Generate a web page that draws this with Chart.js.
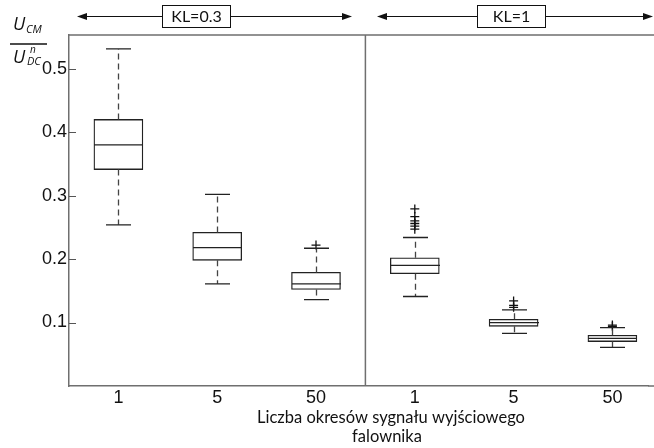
<!DOCTYPE html>
<html>
<head>
<meta charset="utf-8">
<script src="https://cdn.jsdelivr.net/npm/chart.js@4.4.0/dist/chart.umd.min.js"></script>
<style>
    html, body { margin: 0; padding: 0; background: #fff; overflow: hidden; }
    #chart { position: absolute; left: 0; top: 0; }
</style>
</head>
<body>
<canvas id="chart" width="654" height="448"></canvas>
<script>
// Dane (pudełka: min, q1, mediana, q3, max)
const kategorie = ['1', '5', '50', '1', '5', '50'];
const maksima   = [0.531, 0.302, 0.217, 0.234, 0.120, 0.092];
const kwartylG  = [0.420, 0.242, 0.179, 0.202, 0.105, 0.080];
const mediany   = [0.380, 0.218, 0.161, 0.190, 0.100, 0.075];
const kwartylD  = [0.341, 0.198, 0.152, 0.177, 0.094, 0.070];
const minima    = [0.254, 0.161, 0.136, 0.141, 0.083, 0.061];
const odstajace = [[], [], [0.222], [0.279, 0.267, 0.260, 0.256, 0.252, 0.247], [0.134, 0.127, 0.124], [0.096, 0.094]];
const yTicki    = [0.1, 0.2, 0.3, 0.4, 0.5];
const grupy     = ['KL=0.3', 'KL=1'];
const tytulX    = ['Liczba okresów sygnału wyjściowego', 'falownika'];

// pozycje kategorii na osi liniowej (prawa część wykresu jest ucięta w oryginale)
const indeksy = kategorie.map((_, i) => i);
const krokKategorii = 98.8; // px na kategorię
const punktyOdst = [];
odstajace.forEach((lista, i) => lista.forEach(v => punktyOdst.push({ x: i, y: v })));

function strzalka(ctx, x1, x2, y) {
    // linia ze strzałką na końcu x2
    const dir = Math.sign(x2 - x1);
    ctx.beginPath();
    ctx.moveTo(x1, y);
    ctx.lineTo(x2 - dir * 8, y);
    ctx.stroke();
    ctx.beginPath();
    ctx.moveTo(x2, y);
    ctx.lineTo(x2 - dir * 10, y - 3.5);
    ctx.lineTo(x2 - dir * 10, y + 3.5);
    ctx.closePath();
    ctx.fill();
}

const pluginBoxplot = {
    id: 'boxplot',
    afterDatasetsDraw(chart) {
        const { ctx, scales: { x, y } } = chart;
        ctx.save();
        ctx.lineWidth = 1.3;

        indeksy.forEach(i => {
            const cx = Math.round(x.getPixelForValue(i)) + 0.5;
            const half = 24.5;
            const pMed = y.getPixelForValue(mediany[i]);
            const pQ3 = y.getPixelForValue(kwartylG[i]);
            const pQ1 = y.getPixelForValue(kwartylD[i]);
            const pMax = y.getPixelForValue(maksima[i]);
            const pMin = y.getPixelForValue(minima[i]);

            // mediana
            ctx.setLineDash([]);
            ctx.strokeStyle = '#222';
            ctx.beginPath();
            ctx.moveTo(cx - half, pMed);
            ctx.lineTo(cx + half, pMed);
            ctx.stroke();

            // wąsy przerywane
            ctx.setLineDash([6, 4]);
            ctx.strokeStyle = '#444';
            ctx.beginPath();
            ctx.moveTo(cx, pQ3);
            ctx.lineTo(cx, pMax);
            ctx.moveTo(cx, pQ1);
            ctx.lineTo(cx, pMin);
            ctx.stroke();

            // zakończenia wąsów
            ctx.setLineDash([]);
            ctx.strokeStyle = '#222';
            ctx.beginPath();
            ctx.moveTo(cx - 12.5, pMax);
            ctx.lineTo(cx + 12.5, pMax);
            ctx.moveTo(cx - 12.5, pMin);
            ctx.lineTo(cx + 12.5, pMin);
            ctx.stroke();
        });
        ctx.restore();
    },
    afterDraw(chart) {
        const { ctx, chartArea, scales: { x, y } } = chart;
        ctx.save();

        // ramka górna (do prawej krawędzi) i separator
        ctx.strokeStyle = '#6f6f6f';
        ctx.lineWidth = 1.5;
        ctx.beginPath();
        ctx.moveTo(chartArea.left, chartArea.top);
        ctx.lineTo(chart.width, chartArea.top);
        ctx.moveTo(chartArea.right, chartArea.bottom);
        ctx.lineTo(chart.width, chartArea.bottom);
        const xs = x.getPixelForValue(2.5);
        ctx.moveTo(xs, chartArea.top);
        ctx.lineTo(xs, chartArea.bottom);
        ctx.stroke();

        // znaczniki osi Y skierowane do środka
        ctx.strokeStyle = '#555';
        ctx.lineWidth = 1;
        ctx.beginPath();
        yTicki.forEach(v => {
            const py = Math.round(y.getPixelForValue(v)) + 0.5;
            ctx.moveTo(chartArea.left, py);
            ctx.lineTo(chartArea.left + 7, py);
        });
        ctx.stroke();

        // nagłówek z zakresami KL
        ctx.strokeStyle = '#111';
        ctx.fillStyle = '#111';
        ctx.lineWidth = 1;
        const yh = 16.5;
        strzalka(ctx, 162, 77, yh);
        strzalka(ctx, 230, 352, yh);
        strzalka(ctx, 477, 377, yh);
        strzalka(ctx, 545, 653, yh);
        ctx.strokeRect(162.5, 5.5, 68, 22);
        ctx.strokeRect(477.5, 5.5, 68, 22);
        ctx.font = '16px Lato';
        ctx.textAlign = 'center';
        ctx.textBaseline = 'middle';
        ctx.fillText(grupy[0], 196.5, 17);
        ctx.fillText(grupy[1], 511.5, 17);

        // opis osi X
        ctx.fillStyle = '#111';
        ctx.font = '16.5px Lato';
        ctx.fillText(tytulX[0], 391, 418);
        ctx.fillText(tytulX[1], 387, 437);

        // opis osi Y: U_CM / U^n_DC
        ctx.textAlign = 'left';
        ctx.textBaseline = 'alphabetic';
        ctx.font = 'italic 18px "Open Sans"';
        ctx.fillText('U', 13, 30);
        ctx.fillText('U', 13, 63);
        ctx.font = 'italic 11px "Open Sans"';
        ctx.fillText('CM', 26, 33);
        ctx.fillText('DC', 27, 65);
        ctx.font = 'italic 10px "Open Sans"';
        ctx.fillText('n', 30, 53);
        ctx.strokeStyle = '#111';
        ctx.lineWidth = 1.3;
        ctx.beginPath();
        ctx.moveTo(10, 44);
        ctx.lineTo(47, 44);
        ctx.stroke();

        ctx.restore();
    }
};

const ctx = document.getElementById('chart').getContext('2d');
new Chart(ctx, {
    type: 'bar',
    data: {
        datasets: [
            {
                data: indeksy.map(i => ({ x: i, y: [kwartylD[i], kwartylG[i]] })),
                backgroundColor: '#fff',
                borderColor: '#222',
                borderWidth: 1.3,
                borderSkipped: false,
                barThickness: 49
            },
            {
                type: 'scatter',
                data: punktyOdst,
                pointStyle: 'cross',
                pointRadius: 4.5,
                pointBorderColor: '#111',
                pointBorderWidth: 1.3,
                pointHoverRadius: 4.5
            }
        ]
    },
    options: {
        responsive: false,
        maintainAspectRatio: false,
        animation: false,
        layout: { padding: { top: 35, left: 0, right: 0, bottom: 0 } },
        plugins: {
            legend: { display: false },
            tooltip: { enabled: false }
        },
        scales: {
            x: {
                type: 'linear',
                offset: false,
                bounds: 'data',
                min: -0.5,
                max: 5.42,
                grid: { display: false, drawTicks: false, offset: false },
                border: { color: '#6f6f6f', width: 1.5 },
                afterDataLimits: s => { s.min = -0.5; s.max = -0.5 + s.width / krokKategorii; },
                afterBuildTicks: s => {
                    s.ticks = indeksy.map(v => ({ value: v }));
                    s.min = -0.5;
                    s.max = -0.5 + s.width / krokKategorii;
                },
                ticks: {
                    color: '#111',
                    font: { family: 'Liberation Sans', size: 18 },
                    padding: 1,
                    maxRotation: 0,
                    autoSkip: false,
                    callback: v => kategorie[v]
                },
                afterFit: s => { s.height = 62; s.paddingLeft = 0; s.paddingRight = 0; }
            },
            y: {
                min: 0,
                max: 0.553,
                grid: { display: false, drawTicks: false },
                border: { color: '#6f6f6f', width: 1.5 },
                afterBuildTicks: s => { s.ticks = yTicki.map(v => ({ value: v })); },
                ticks: {
                    color: '#111',
                    font: { family: 'Liberation Sans', size: 18 },
                    padding: 2,
                    callback: v => v.toFixed(1)
                },
                afterFit: s => { s.width = 69; s.paddingTop = 0; s.paddingBottom = 0; }
            }
        }
    },
    plugins: [pluginBoxplot]
});
</script>
</body>
</html>
